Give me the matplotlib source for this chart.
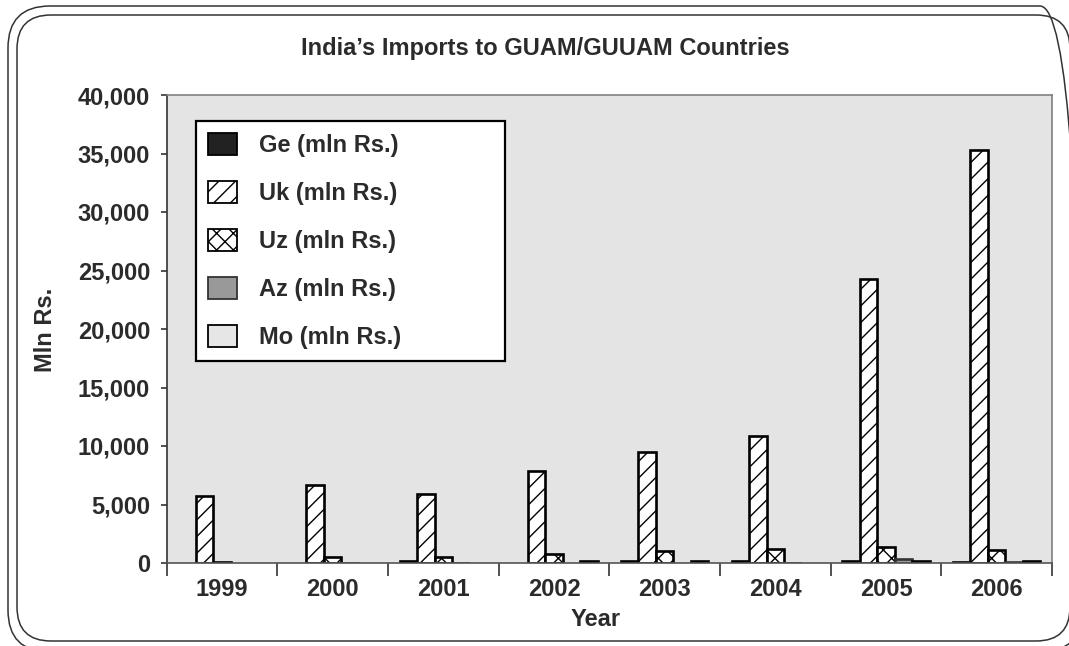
import numpy as np
import matplotlib
matplotlib.use("Agg")
import matplotlib.pyplot as plt
from matplotlib.patches import FancyBboxPatch, Rectangle
from matplotlib.legend_handler import HandlerPatch
from matplotlib.transforms import IdentityTransform
from matplotlib.ticker import FuncFormatter, FixedLocator

# Data (mln Rs.)
years = ["1999", "2000", "2001", "2002", "2003", "2004", "2005", "2006"]
ge = [0, 0, 130, 0, 130, 130, 130, 50]
uk = [5750, 6650, 5900, 7900, 9500, 10850, 24290, 35300]
uz = [90, 480, 480, 760, 1030, 1200, 1340, 1150]
az = [0, 40, 40, 0, 0, 40, 300, 120]
mo = [0, 0, 0, 130, 130, 0, 130, 130]
series_names = ["Ge (mln Rs.)", "Uk (mln Rs.)", "Uz (mln Rs.)", "Az (mln Rs.)", "Mo (mln Rs.)"]

TEXT = "#2b2b2b"
BG = "#e4e4e4"

plt.rcParams["font.family"] = ["Liberation Sans", "DejaVu Sans"]
plt.rcParams["font.weight"] = "bold"
plt.rcParams["hatch.linewidth"] = 1.0

W, H = 1069, 646
fig = plt.figure(figsize=(W / 100, H / 100), dpi=100)
fig.patch.set_facecolor("white")

# axes placed in pixel terms
x0, x1 = 166.7, 1052
y0, y1 = 95, 563
ax = fig.add_axes([x0 / W, 1 - y1 / H, (x1 - x0) / W, (y1 - y0) / H])
ax.set_facecolor(BG)

styles = [
    dict(color="#222222", edgecolor="black", hatch=None),
    dict(color="white", edgecolor="black", hatch="//"),
    dict(color="white", edgecolor="black", hatch="xx"),
    dict(color="#999999", edgecolor="#333333", hatch=None),
    dict(color="#e6e6e6", edgecolor="black", hatch=None),
]

x = np.arange(len(years))
w = 0.158
all_series = [ge, uk, uz, az, mo]
handles = []
for k, (vals, st) in enumerate(zip(all_series, styles)):
    vals = np.array(vals, dtype=float)
    pos = x + (k - 2) * w
    mask = vals > 0
    ax.bar(pos[mask], vals[mask], width=w, color=st["color"], edgecolor=st["edgecolor"],
           hatch=st["hatch"], linewidth=1.9, zorder=3)
    h = ax.bar([np.nan], [0], width=w, color=st["color"], edgecolor=st["edgecolor"],
               hatch=st["hatch"], linewidth=1.3, label=series_names[k])
    handles.append(h)

ax.set_xlim(-0.5, len(years) - 0.5)
ax.set_ylim(0, 40000)
ax.set_yticks(np.arange(0, 40001, 5000))
ax.yaxis.set_major_formatter(FuncFormatter(lambda v, p: f"{int(v):,}"))

ax.set_xticks(x)
ax.set_xticklabels(years)
ax.xaxis.set_minor_locator(FixedLocator(np.arange(-0.5, len(years), 1.0)))
ax.tick_params(axis="x", which="major", length=0, pad=11, labelsize=17, labelcolor=TEXT)
ax.tick_params(axis="x", which="minor", length=9, width=1.2, color="#333333", direction="out")
ax.tick_params(axis="y", which="major", length=4, width=1.2, color="#333333", pad=8,
               labelsize=17, labelcolor=TEXT)

for side in ["top", "right"]:
    ax.spines[side].set_color("#808080")
    ax.spines[side].set_linewidth(1.2)
ax.spines["left"].set_color("#333333")
ax.spines["left"].set_linewidth(1.2)
ax.spines["bottom"].set_color("#555555")
ax.spines["bottom"].set_linewidth(1.2)
ax.spines["bottom"].set_zorder(4)


# square legend key, pushed to the right side of its slot
def square_key(legend, orig_handle, xdescent, ydescent, width, height, fontsize):
    side = height
    return Rectangle((width - side - xdescent, -ydescent), side, side)


# legend box
lx0, lx1 = 196, 505
ly0 = 121
leg = ax.legend(handles=handles, loc="upper left",
                bbox_to_anchor=((lx0 - x0) / (x1 - x0), (y1 - ly0) / (y1 - y0),
                                (lx1 - lx0) / (x1 - x0), 0),
                mode="expand", fontsize=17, frameon=True, fancybox=False,
                handlelength=1.25, handleheight=1.05, handletextpad=0.9,
                labelspacing=1.02, borderpad=0.5, borderaxespad=0,
                handler_map={type(handles[0].patches[0]): HandlerPatch(patch_func=square_key)})
leg.get_frame().set_edgecolor("black")
leg.get_frame().set_linewidth(1.6)
leg.get_frame().set_facecolor("white")
leg.get_frame().set_alpha(1)
for t in leg.get_texts():
    t.set_color(TEXT)
leg.set_zorder(5)

fig.text(545 / W, 1 - 48 / H, "India\u2019s Imports to GUAM/GUUAM Countries",
         ha="center", va="center", fontsize=17, color=TEXT, fontweight="bold")
fig.text(596 / W, 1 - 620 / H, "Year", ha="center", va="center", fontsize=17,
         color=TEXT, fontweight="bold")
fig.text(45 / W, 1 - 330 / H, "Mln Rs.", ha="center", va="center", rotation=90,
         fontsize=17, color=TEXT, fontweight="bold")


# double rounded chart border (pixel coordinates, origin bottom-left)
def rounded(xa, ya_top, xb, yb_bottom, r):
    return FancyBboxPatch((xa, H - yb_bottom), xb - xa, yb_bottom - ya_top,
                          boxstyle=f"round,pad=0,rounding_size={r}",
                          transform=IdentityTransform(), fill=False,
                          edgecolor="#333333", linewidth=1.1)


fig.patches.append(rounded(8, 6, 1082, 652, 42))
fig.patches.append(rounded(17, 15, 1070, 641, 34))

fig.savefig("out.png", dpi=100)
